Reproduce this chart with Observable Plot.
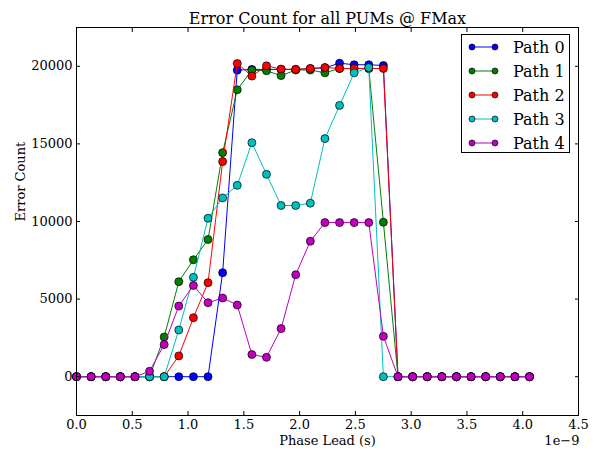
<!DOCTYPE html>
<html><head><meta charset="utf-8">
<script src="https://cdn.jsdelivr.net/npm/d3@7"></script>
<script src="https://cdn.jsdelivr.net/npm/@observablehq/plot@0.6"></script>
<style>body{margin:0;background:#fff} #chart svg{font-family:"DejaVu Serif",serif}</style>
</head><body><div id="chart"></div>
<script>
// Phase lead in units of 1e-9 s
const phaseLead = [0, 0.131, 0.262, 0.393, 0.524, 0.655, 0.786, 0.917, 1.048, 1.179,
  1.31, 1.441, 1.572, 1.703, 1.834, 1.965, 2.096, 2.227, 2.358, 2.489,
  2.62, 2.751, 2.882, 3.013, 3.144, 3.275, 3.406, 3.537, 3.668, 3.799, 3.93, 4.061];
const path0 = [0,0,0,0,0,0,0,0,0,0, 6700,19750,19800,19800,19800,19800,19850,19900,20200,20100, 20100,20050, 0,0,0,0,0,0,0,0,0,0];
const path1 = [0,0,0,0,0,0,2560,6120,7535,8840, 14435,18490,19750,19710,19400,19760,19760,19580,19860,19860, 19860,9950, 0,0,0,0,0,0,0,0,0,0];
const path2 = [0,0,0,0,0,0,0,1340,3800,6060, 13860,20180,19370,20030,19820,19800,19860,19920,19860,19860, 19860,19860, 0,0,0,0,0,0,0,0,0,0];
const path3 = [0,0,0,0,0,0,0,3010,6400,10210, 11520,12330,15080,13040,11030,11030,11180,15340,17480,19580, 19920,0, 0,0,0,0,0,0,0,0,0,0];
const path4 = [0,0,0,0,0,350,2070,4550,5880,4770, 5070,4620,1430,1250,3100,6570,8730,9930,9930,9930, 9930,2600, 0,0,0,0,0,0,0,0,0,0];
const seriesNames = ["Path 0", "Path 1", "Path 2", "Path 3", "Path 4"];
const seriesColors = ["#0000ff", "#008000", "#ff0000", "#00bfbf", "#bf00bf"];
const seriesValues = [path0, path1, path2, path3, path4];
const xTicks = [0, 0.5, 1, 1.5, 2, 2.5, 3, 3.5, 4, 4.5];
const yTicks = [0, 5000, 10000, 15000, 20000];
const titleText = "Error Count for all PUMs @ FMax";
const xLabel = "Phase Lead (s)";
const yLabel = "Error Count";
const xOffsetText = "1e\u22129";

const marks = [];
seriesValues.forEach((vals, k) => {
  const d = phaseLead.map((x, i) => ({x, y: vals[i]}));
  marks.push(Plot.line(d, {x: "x", y: "y", stroke: seriesColors[k], strokeWidth: 1}));
  marks.push(Plot.dot(d, {x: "x", y: "y", r: 4, fill: seriesColors[k], stroke: "#000", strokeWidth: 0.7}));
});

const fmt1 = d3.format(".1f");
const chart = Plot.plot({
  width: 596, height: 451,
  marginTop: 27, marginRight: 18, marginBottom: 36, marginLeft: 76,
  style: {fontFamily: "DejaVu Serif", fontSize: "13px", background: "#fff", color: "#000"},
  x: {domain: [0, 4.5]},
  y: {domain: [-2500, 22500]},
  marks: [
    ...marks,
    Plot.frame({stroke: "#000", strokeWidth: 1}),
    Plot.axisX({anchor: "bottom", ticks: xTicks, tickSize: -4, tickPadding: 8, tickFormat: fmt1, label: null, fontSize: 13}),
    Plot.axisX({anchor: "top", ticks: xTicks, tickSize: -4, tickFormat: () => "", label: null}),
    Plot.axisY({anchor: "left", ticks: yTicks, tickSize: -4, tickPadding: 8, tickFormat: d => String(d), label: null, fontSize: 13}),
    Plot.axisY({anchor: "right", ticks: yTicks, tickSize: -4, tickFormat: () => "", label: null}),
    Plot.text([titleText], {frameAnchor: "top", dy: -15, fontSize: 16}),
    Plot.text([xLabel], {frameAnchor: "bottom", dy: 29, fontSize: 13}),
    Plot.text([xOffsetText], {frameAnchor: "bottom-right", dy: 29, dx: 1, textAnchor: "end", fontSize: 13}),
    Plot.text([yLabel], {frameAnchor: "left", rotate: -90, dx: -56, fontSize: 13})
  ]
});
document.getElementById("chart").appendChild(chart);

// Legend (upper right, boxed)
const svg = d3.select(chart);
const lg = svg.append("g").attr("font-family", "DejaVu Serif").attr("font-size", 16).attr("text-anchor", "start");
lg.append("rect").attr("x", 461.5).attr("y", 34.5).attr("width", 108).attr("height", 118)
  .attr("fill", "#fff").attr("stroke", "#000").attr("stroke-width", 1);
seriesNames.forEach((name, k) => {
  const y = 47 + k * 24;
  lg.append("line").attr("x1", 472).attr("x2", 495).attr("y1", y).attr("y2", y)
    .attr("stroke", seriesColors[k]).attr("stroke-width", 1);
  [472, 495].forEach(cx => lg.append("circle").attr("cx", cx).attr("cy", y).attr("r", 3)
    .attr("fill", seriesColors[k]).attr("stroke", "#000").attr("stroke-width", 0.7));
  lg.append("text").attr("x", 513).attr("y", y).attr("dy", "0.35em").attr("text-anchor", "start")
    .attr("fill", "#000").text(name);
});
</script>
</body></html>
